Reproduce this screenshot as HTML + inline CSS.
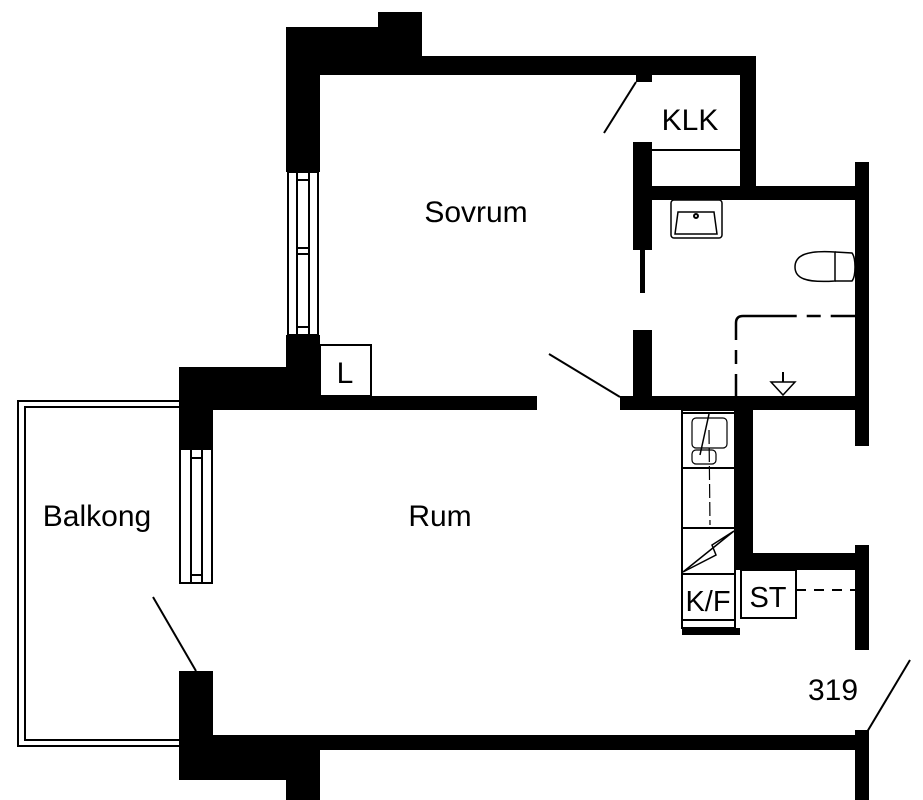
<!DOCTYPE html>
<html><head><meta charset="utf-8">
<style>html,body{margin:0;padding:0;background:#fff}svg{display:block}</style>
</head><body>
<svg width="923" height="800" viewBox="0 0 923 800" xmlns="http://www.w3.org/2000/svg" font-family="Liberation Sans, Arial, sans-serif">
<rect width="923" height="800" fill="#fff"/>
<g fill="#000">
<rect x="378" y="12" width="44" height="44"/>
<rect x="286" y="27" width="136" height="48"/>
<rect x="286" y="56" width="470" height="19"/>
<rect x="286" y="27" width="34" height="145"/>
<rect x="286" y="335" width="34" height="75"/>
<rect x="179" y="367" width="141" height="43"/>
<rect x="179" y="367" width="34" height="82"/>
<rect x="286" y="396" width="251" height="14"/>
<rect x="179" y="671" width="34" height="109"/>
<rect x="179" y="735" width="141" height="45"/>
<rect x="286" y="735" width="34" height="65"/>
<rect x="179" y="735" width="690" height="15"/>
<rect x="855" y="730" width="14" height="70"/>
<rect x="740" y="56" width="16" height="144"/>
<rect x="636" y="73" width="16" height="9"/>
<rect x="649" y="186" width="208" height="14"/>
<rect x="855" y="162" width="14" height="284"/>
<rect x="633" y="142" width="19" height="108"/>
<rect x="633" y="330" width="19" height="80"/>
<rect x="620" y="396" width="249" height="14"/>
<rect x="735" y="405" width="18" height="165"/>
<rect x="735" y="553" width="127" height="17"/>
<rect x="855" y="545" width="14" height="105"/>
<rect x="682" y="628" width="58" height="7"/>
</g>
<g fill="none" stroke="#000" stroke-width="2">
<rect x="288" y="172" width="30" height="163" fill="#fff"/>
<line x1="297" y1="172" x2="297" y2="335"/><line x1="309" y1="172" x2="309" y2="335"/>
<line x1="297" y1="180" x2="309" y2="180"/><line x1="297" y1="248" x2="309" y2="248"/><line x1="297" y1="254" x2="309" y2="254"/><line x1="297" y1="327" x2="309" y2="327"/>
<rect x="180" y="449" width="32" height="134" fill="#fff"/>
<line x1="191" y1="449" x2="191" y2="583"/><line x1="202" y1="449" x2="202" y2="583"/>
<line x1="191" y1="458" x2="202" y2="458"/><line x1="191" y1="575" x2="202" y2="575"/>
<polyline points="179,401 18,401 18,746 179,746"/>
<polyline points="179,407 25,407 25,740 179,740"/>
<rect x="320" y="345" width="51" height="51"/>
<line x1="652" y1="150" x2="740" y2="150"/>
<line x1="636" y1="82" x2="604" y2="133"/>
<line x1="549" y1="354" x2="620" y2="397"/>
<line x1="153" y1="597" x2="196" y2="671"/>
<line x1="910" y1="660" x2="867" y2="732"/>
<rect x="641" y="178" width="3" height="114" fill="#000"/>
<rect x="671" y="200" width="51" height="38" rx="3" stroke-width="1.5"/>
<path d="M678,212 L714,212 L717,234 L675,234 Z" stroke-width="1.5"/>
<circle cx="696" cy="216" r="2" stroke-width="2"/>
<path d="M835,252 C805,250 795,256 795,267 C795,278 805,283 835,281 Z" stroke-width="1.5"/>
<path d="M835,252 L852,253 C856,258 856,276 852,281 L835,281" stroke-width="1.5"/>
<path d="M736,396 L736,323 Q736,316 743,316 L855,316" stroke-dasharray="22,10,14,10,60,0" stroke-width="2.5"/>
<path d="M771,382 L795,382 L783,395 Z" stroke-width="1.5"/>
<line x1="783" y1="372" x2="783" y2="382"/>
<rect x="682" y="410" width="53" height="218"/>
<line x1="682" y1="413" x2="735" y2="413"/>
<line x1="682" y1="468" x2="735" y2="468"/>
<line x1="682" y1="528" x2="735" y2="528"/>
<line x1="682" y1="574" x2="735" y2="574"/>
<line x1="682" y1="620" x2="735" y2="620"/>
<rect x="692" y="418" width="35" height="30" rx="4" stroke-width="1.2"/>
<rect x="692" y="450" width="24" height="14" rx="4" stroke-width="1.2"/>
<line x1="700" y1="455" x2="709" y2="414" stroke-width="1.5"/>
<line x1="709" y1="430" x2="710" y2="525" stroke-width="1.2" stroke-dasharray="14,4"/>
<polyline points="683,572 734,531 712,545 716,555 683,572" stroke-width="1.5"/>
<rect x="741" y="570" width="55" height="48"/>
<line x1="796" y1="590" x2="855" y2="590" stroke-dasharray="10,8"/>
</g>
<g fill="#000" font-size="30">
<text x="476" y="222" text-anchor="middle">Sovrum</text>
<text x="690" y="130" text-anchor="middle">KLK</text>
<text x="345" y="383" text-anchor="middle">L</text>
<text x="97" y="526" text-anchor="middle">Balkong</text>
<text x="440" y="526" text-anchor="middle">Rum</text>
<text x="708" y="611" text-anchor="middle" font-size="29">K/F</text>
<text x="768" y="607" text-anchor="middle" font-size="29">ST</text>
<text x="833" y="700" text-anchor="middle">319</text>
</g>
</svg>
</body></html>
